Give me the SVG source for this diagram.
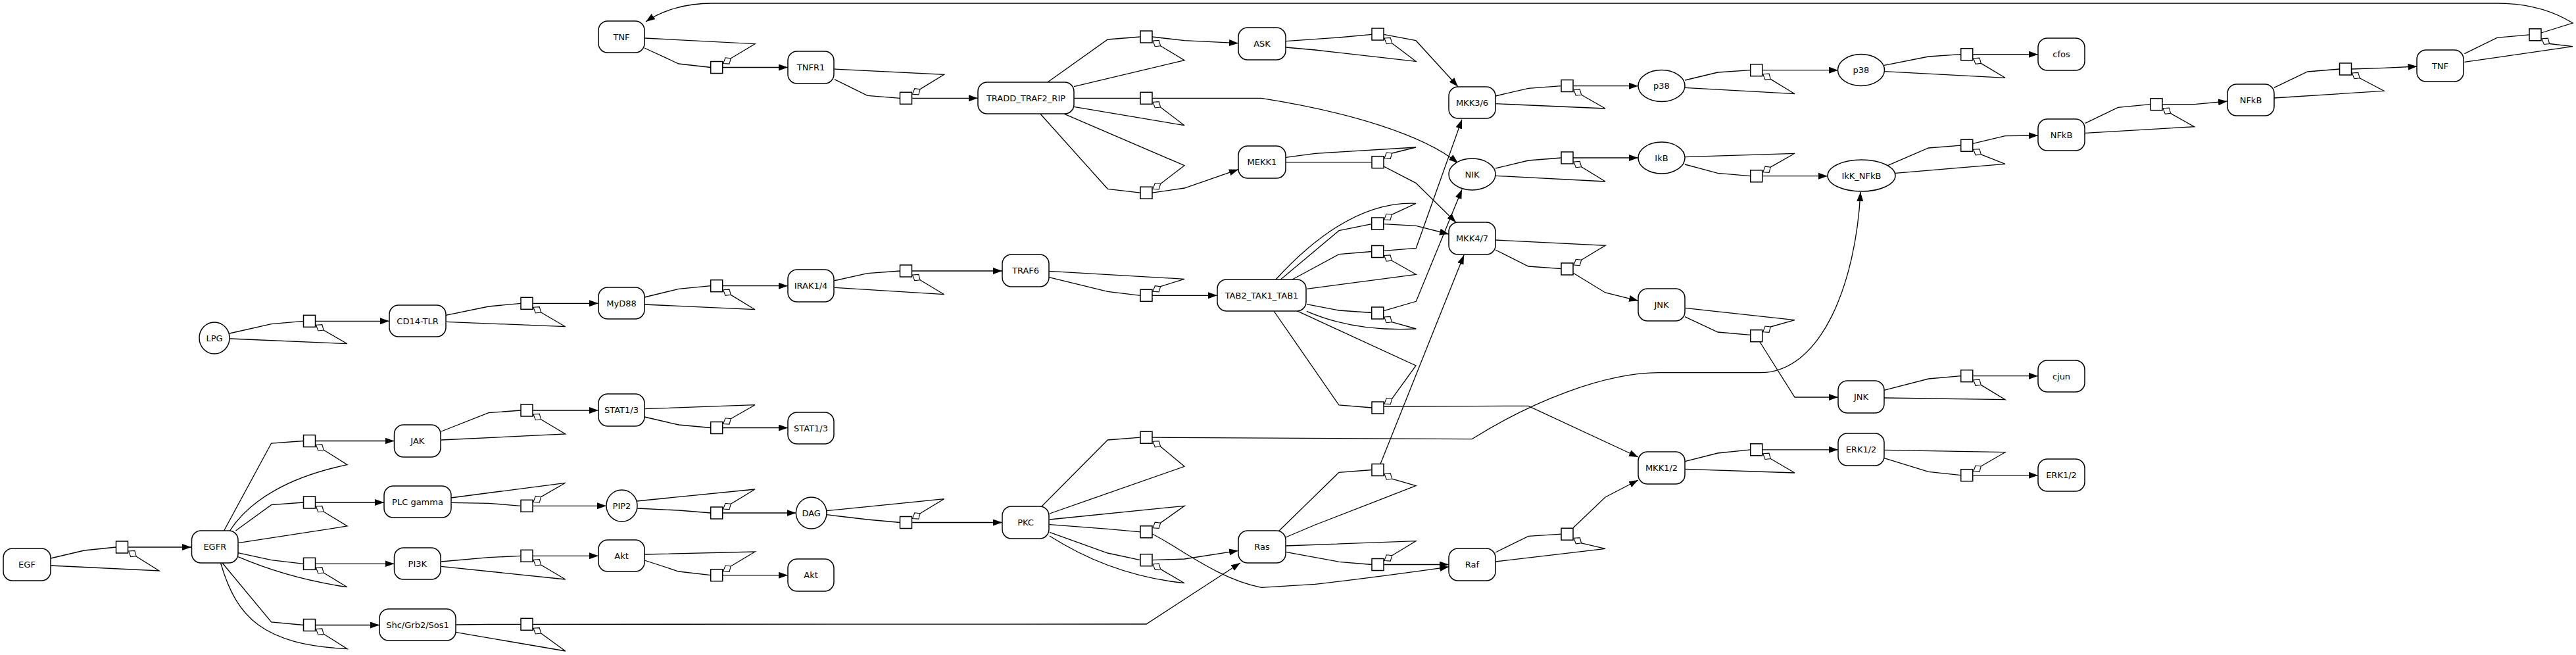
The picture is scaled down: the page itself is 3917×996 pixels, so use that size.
<svg xmlns="http://www.w3.org/2000/svg" width="3917" height="996" viewBox="0 0 3917 996">
<style>
.n{fill:#fff;stroke:#000;stroke-width:1.5}
.t{font-family:"DejaVu Sans","Liberation Sans",sans-serif;font-size:13px;text-anchor:middle;fill:#000}
.c{fill:none;stroke:#000;stroke-width:1.3}
.a{marker-end:url(#ah)}
.p{fill:#fff;stroke:#000;stroke-width:1.5}
.q{fill:#fff;stroke:#000;stroke-width:1.1}
</style>
<defs>
<marker id="ah" markerUnits="userSpaceOnUse" markerWidth="15" markerHeight="11" refX="14" refY="5" orient="auto" viewBox="0 0 15 11">
<path d="M0,0 L14,5 L0,10 Z" fill="#000"/>
</marker>
<rect id="sq" class="p" x="-9" y="-9" width="18" height="18"/>
<path id="pd" class="q" d="M10,6 L19.3,5.4 L21.6,13.7 L13.3,14.7 Z"/>
<path id="pu" class="q" d="M10,-6 L19.3,-5.4 L21.6,-13.7 L13.3,-14.7 Z"/>
</defs>
<rect width="3917" height="996" fill="#fff"/>
<g id="connectors">
<path class="c" d="M77,849 L128,837 L176.5,832"/><path class="c" d="M77,860 L242,868 L207,846"/><path class="c a" d="M194.5,832 L291,832"/>
<path class="c" d="M340.6,807 L412.6,674 L461.5,670.5"/><path class="c" d="M349.5,807 C380,760 440,725 528,706.7 L492,684"/><path class="c a" d="M479.5,670.5 L599.5,670.5"/>
<path class="c" d="M358.4,807 L412.6,767.7 L461.5,764"/><path class="c" d="M362,825.7 L528,800 L492,778"/><path class="c a" d="M479.5,764 L584,764"/>
<path class="c" d="M362,840.7 L412.6,851.7 L461.5,857.3"/><path class="c" d="M362,846.7 Q440,880 528,892.7 L492,871"/><path class="c a" d="M479.5,857.3 L599.5,857.3"/>
<path class="c" d="M338,856 L412.6,946 L461.5,950.5"/><path class="c" d="M335.5,856 C360,940 400,980 528,986.7 L492,964"/><path class="c a" d="M479.5,950.5 L577,950.5"/>
<path class="c" d="M671,656 L743,627.7 L792,624"/><path class="c" d="M671,669 L859.7,660 L822.6,637.7"/><path class="c a" d="M810,624 L910,624"/>
<path class="c" d="M685.6,764.3 L743,765.3 L792,769.3"/><path class="c" d="M685.6,757 L859.7,734.3 L822.6,755.6"/><path class="c a" d="M810,769.3 L922,769.3"/>
<path class="c" d="M671,854 L743,847.7 L792,845.3"/><path class="c" d="M671,861.3 L859.7,881 L822.6,859"/><path class="c a" d="M810,845.3 L910,845.3"/>
<path class="c" d="M692.6,950 L743,949.3 L792,949.3"/><path class="c" d="M692.6,961.3 L859.7,990 L822.6,963"/><path class="c a" d="M810,949.3 L1743,949 L1886,856"/>
<path class="c" d="M349,507 L412.6,492.7 L461.5,488.3"/><path class="c" d="M349.5,515 L528,522.7 L492,502"/><path class="c a" d="M479.5,488.3 L592,488.3"/>
<path class="c" d="M678,479.3 L743,466 L792,461.3"/><path class="c" d="M678,489.3 L859.7,496.7 L822.6,475"/><path class="c a" d="M810,461.3 L910,461.3"/>
<path class="c" d="M980,73 L1032,97 L1080.7,102.5"/><path class="c" d="M980,58 L1148,66.7 L1111.3,88.8"/><path class="c a" d="M1098.7,102.5 L1198,102.5"/>
<path class="c" d="M1269,120.7 L1319,145.3 L1368.5,149.3"/><path class="c" d="M1269,105 L1435.6,113.3 L1399.1,135.6"/><path class="c a" d="M1386.5,149.3 L1487,149.3"/>
<path class="c" d="M1593,125 L1684.3,60 L1734,56"/><path class="c" d="M1633,131.7 L1801,91.7 L1764.6,69.7"/><path class="c a" d="M1752,56 L1801,61.7 L1883,65.7"/>
<path class="c" d="M1633,149.3 L1734,149.3"/><path class="c" d="M1633,162.3 L1801,190.7 L1764.6,163"/><path class="c a" d="M1752,149.3 L1918,149.3 C2050,170 2165,205 2217,248"/>
<path class="c" d="M1582,173.3 L1684.3,287.3 L1734,293.2"/><path class="c" d="M1618.6,173.3 L1801,251.7 L1764.6,279.5"/><path class="c a" d="M1752,293.2 L1801,286 L1883,257.7"/>
<path class="c" d="M1269,426.7 L1319,415.7 L1368.5,412"/><path class="c" d="M1269,437.3 L1435.6,447.7 L1399.1,425.7"/><path class="c a" d="M1386.5,412 L1524,412"/>
<path class="c" d="M980,452 L1032,439.3 L1080.7,434.7"/><path class="c" d="M980,463 L1148,470.7 L1111.3,448.4"/><path class="c a" d="M1098.7,434.7 L1198,434.7"/>
<path class="c" d="M1595,421.7 L1684.3,443.3 L1734,449.3"/><path class="c" d="M1595,412.3 L1801,424.3 L1764.6,435.6"/><path class="c a" d="M1752,449.3 L1851,449.3"/>
<path class="c" d="M980,634 L1032,646 L1080.7,650.5"/><path class="c" d="M980,621.7 L1148,615.7 L1111.3,636.8"/><path class="c a" d="M1098.7,650.5 L1198,650.5"/>
<path class="c" d="M969,773 L1032,776 L1080.7,780"/><path class="c" d="M968,762 L1148,744 L1111.3,766.3"/><path class="c a" d="M1098.7,780 L1210.5,780"/>
<path class="c" d="M980,852 L1032,869 L1080.7,874.7"/><path class="c" d="M980,843 L1148,839 L1111.3,861"/><path class="c a" d="M1098.7,874.7 L1198,874.7"/>
<path class="c" d="M1257,782.7 L1319,790 L1368.5,794.5"/><path class="c" d="M1257,776.7 L1435.6,758.7 L1399.1,780.8"/><path class="c a" d="M1386.5,794.5 L1524,794.5"/>
<path class="c" d="M1584,770 L1684.3,669 L1734,665.2"/><path class="c" d="M1596,781 L1801,709.3 L1764.6,678.9"/><path class="c a" d="M1752,665.2 L2238,667.7 C2330,610 2440,566.7 2523,566.7 L2676,566.7 C2770,566.7 2822,430 2829,292"/>
<path class="c" d="M1596,797.7 L1684.3,804.3 L1734,808.8"/><path class="c" d="M1596,790 L1801,769.3 L1764.6,795.1"/><path class="c a" d="M1752,812 C1790,830 1850,880 1918,893.3 L2000,888.3 C2090,878 2160,868 2203,862"/>
<path class="c" d="M1596,809.3 L1684.3,841 L1734,851.7"/><path class="c" d="M1596,815 Q1690,875 1801,886.7 L1764.6,865.4"/><path class="c a" d="M1752,851.7 L1801,850 L1883,837.3"/>
<path class="c" d="M1937,473 L2036,616 L2086,620"/><path class="c" d="M1972,472.7 L2153,556 L2116.6,606.3"/><path class="c a" d="M2104,618.3 L2324,617.3 L2491,695"/>
<path class="c" d="M1944,808 L2036,718.3 L2086,714.5"/><path class="c" d="M1955,817 L2000,798 L2153,738.7 L2116.6,728.2"/><path class="c a" d="M2099,705.5 L2226,388"/>
<path class="c" d="M1955,839.3 L2036,854.3 L2086,858.5"/><path class="c" d="M1955,830 L2153,822.7 L2116.6,844.8"/><path class="c a" d="M2104,858.5 L2203,858.5"/>
<path class="c" d="M1955,62.7 L2036,57 L2086,52.3"/><path class="c" d="M1955,72 L2000,76 L2153,93.3 L2116.6,65.7"/><path class="c a" d="M2104,52.3 L2153,61.7 L2217,131.7"/>
<path class="c" d="M1955,246.7 L2086,246.7"/><path class="c" d="M1955,239.3 L2000,233.3 L2153,224 L2116.6,233"/><path class="c a" d="M2104,253 L2153,278.3 L2214,338.3"/>
<path class="c" d="M1947.3,425 L2036,350.7 L2085.7,340.7"/><path class="c" d="M1940,425 Q2050,305 2153,309.3 L2116.3,326.3"/><path class="c a" d="M2104,340.7 L2153.3,343.3 L2203,356"/>
<path class="c" d="M1965,425 L2036,386.7 L2085.7,382.5"/><path class="c" d="M1987,439.3 L2153.3,417.3 L2116.3,396.2"/><path class="c a" d="M2104,381.3 L2153.3,377.3 L2223,181.7"/>
<path class="c" d="M1987,462.7 L2036,472 L2085.7,475.5"/><path class="c" d="M1987,473.3 Q2060,505 2153.3,500 L2116.3,489.7"/><path class="c a" d="M2104,472.7 L2153.3,458.3 L2223,288.3"/>
<path class="c" d="M2274,146 L2324,134.3 L2374,130.7"/><path class="c" d="M2274,157.7 L2441,165 L2404.6,144.2"/><path class="c a" d="M2392,130.7 L2491,130.7"/>
<path class="c" d="M2274,256 L2324,244 L2374,240"/><path class="c" d="M2274,267.3 L2441,276 L2404.6,253.7"/><path class="c a" d="M2392,240 L2491,240"/>
<path class="c" d="M2274,380 L2324,405 L2374,408.7"/><path class="c" d="M2274,365 L2441,373.3 L2404.6,395.3"/><path class="c a" d="M2392,415 L2441,445 L2491,457.3"/>
<path class="c" d="M2562,122 L2612,110 L2661.7,106.7"/><path class="c" d="M2562,133.3 L2729,142.7 L2692.3,120.4"/><path class="c a" d="M2679.7,106.7 L2795,106.7"/>
<path class="c" d="M2562,250 L2612,263.3 L2661.7,267.7"/><path class="c" d="M2562,238.7 L2729,233.3 L2692.3,254.1"/><path class="c a" d="M2679.7,267.7 L2779,267.7"/>
<path class="c" d="M2562,481.7 L2612,505 L2661.7,509.3"/><path class="c" d="M2562,468.3 L2729,486.7 L2692.3,497"/><path class="c a" d="M2676,520 L2729,604 L2795,604"/>
<path class="c" d="M2865,99.3 L2932.4,86 L2981.7,82.7"/><path class="c" d="M2865,108.7 L3049,118.3 L3012.3,96.4"/><path class="c a" d="M2999.7,82.7 L3099,82.7"/>
<path class="c" d="M2870.5,251.7 L2932.4,225 L2981.7,221.2"/><path class="c" d="M2882,263.3 L3049,249.3 L3012.3,234.9"/><path class="c a" d="M2999.7,218.3 L3049,206.7 L3099,206"/>
<path class="c" d="M3170.8,187.3 L3220.6,163.3 L3270,158.7"/><path class="c" d="M3170.8,202.3 L3336.6,192.7 L3300.6,172.4"/><path class="c a" d="M3288,158.7 L3336.6,158.7 L3387,154"/>
<path class="c" d="M3457.8,133.3 L3508.8,109 L3557.5,105"/><path class="c" d="M3457.8,149 L3625,138.3 L3588.1,118.7"/><path class="c a" d="M3575.5,105 L3625,103.3 L3675.5,101"/>
<path class="c" d="M3747.4,81.7 L3797,57.3 L3846,52.8"/><path class="c" d="M3747.4,94.3 L3912,70.7 L3876.6,66.5"/><path class="c a" d="M3864,50 L3912,35 C3880,15 3840,5 3797,5 L1083,5 C1040,5 1005,17 982,33"/>
<path class="c" d="M2562,701.7 L2612,689 L2661.7,683.8"/><path class="c" d="M2562,713.3 L2729,719 L2692.3,697.5"/><path class="c a" d="M2679.7,683.8 L2795,683.8"/>
<path class="c" d="M2865,593.3 L2932.4,576 L2981.7,571.7"/><path class="c" d="M2865,605 L3049,607.7 L3012.3,585.4"/><path class="c a" d="M2999.7,571.7 L3099,571.7"/>
<path class="c" d="M2865,696.7 L2932.4,717.3 L2981.7,722.7"/><path class="c" d="M2865,684.3 L3049,687.7 L3012.3,709"/><path class="c a" d="M2999.7,722.7 L3099,722.7"/>
<path class="c" d="M2274,840 L2324,815.3 L2374,812.2"/><path class="c" d="M2274,854 L2441,834.3 L2404.6,825.9"/><path class="c a" d="M2392,802.7 L2441,756 L2491,730"/>
</g>
<g id="reactions">
<g id="r1"><use href="#sq" x="185.5" y="832"/><use href="#pd" x="185.5" y="832"/></g>
<g id="r2"><use href="#sq" x="470.5" y="670.5"/><use href="#pd" x="470.5" y="670.5"/></g>
<g id="r3"><use href="#sq" x="470.5" y="764"/><use href="#pd" x="470.5" y="764"/></g>
<g id="r4"><use href="#sq" x="470.5" y="857.3"/><use href="#pd" x="470.5" y="857.3"/></g>
<g id="r5"><use href="#sq" x="470.5" y="950.5"/><use href="#pd" x="470.5" y="950.5"/></g>
<g id="r6"><use href="#sq" x="801" y="624"/><use href="#pd" x="801" y="624"/></g>
<g id="r7"><use href="#sq" x="801" y="769.3"/><use href="#pu" x="801" y="769.3"/></g>
<g id="r8"><use href="#sq" x="801" y="845.3"/><use href="#pd" x="801" y="845.3"/></g>
<g id="r9"><use href="#sq" x="801" y="949.3"/><use href="#pd" x="801" y="949.3"/></g>
<g id="r10"><use href="#sq" x="470.5" y="488.3"/><use href="#pd" x="470.5" y="488.3"/></g>
<g id="r11"><use href="#sq" x="801" y="461.3"/><use href="#pd" x="801" y="461.3"/></g>
<g id="r12"><use href="#sq" x="1089.7" y="102.5"/><use href="#pu" x="1089.7" y="102.5"/></g>
<g id="r13"><use href="#sq" x="1377.5" y="149.3"/><use href="#pu" x="1377.5" y="149.3"/></g>
<g id="r14"><use href="#sq" x="1743" y="56"/><use href="#pd" x="1743" y="56"/></g>
<g id="r15"><use href="#sq" x="1743" y="149.3"/><use href="#pd" x="1743" y="149.3"/></g>
<g id="r16"><use href="#sq" x="1743" y="293.2"/><use href="#pu" x="1743" y="293.2"/></g>
<g id="r17"><use href="#sq" x="1377.5" y="412"/><use href="#pd" x="1377.5" y="412"/></g>
<g id="r18"><use href="#sq" x="1089.7" y="434.7"/><use href="#pd" x="1089.7" y="434.7"/></g>
<g id="r19"><use href="#sq" x="1743" y="449.3"/><use href="#pu" x="1743" y="449.3"/></g>
<g id="r20"><use href="#sq" x="1089.7" y="650.5"/><use href="#pu" x="1089.7" y="650.5"/></g>
<g id="r21"><use href="#sq" x="1089.7" y="780"/><use href="#pu" x="1089.7" y="780"/></g>
<g id="r22"><use href="#sq" x="1089.7" y="874.7"/><use href="#pu" x="1089.7" y="874.7"/></g>
<g id="r23"><use href="#sq" x="1377.5" y="794.5"/><use href="#pu" x="1377.5" y="794.5"/></g>
<g id="r24"><use href="#sq" x="1743" y="665.2"/><use href="#pd" x="1743" y="665.2"/></g>
<g id="r25"><use href="#sq" x="1743" y="808.8"/><use href="#pu" x="1743" y="808.8"/></g>
<g id="r26"><use href="#sq" x="1743" y="851.7"/><use href="#pd" x="1743" y="851.7"/></g>
<g id="r27"><use href="#sq" x="2095" y="620"/><use href="#pu" x="2095" y="620"/></g>
<g id="r28"><use href="#sq" x="2095" y="714.5"/><use href="#pd" x="2095" y="714.5"/></g>
<g id="r29"><use href="#sq" x="2095" y="858.5"/><use href="#pu" x="2095" y="858.5"/></g>
<g id="r30"><use href="#sq" x="2095" y="52"/><use href="#pd" x="2095" y="52"/></g>
<g id="r31"><use href="#sq" x="2095" y="246.7"/><use href="#pu" x="2095" y="246.7"/></g>
<g id="r32"><use href="#sq" x="2094.7" y="340"/><use href="#pu" x="2094.7" y="340"/></g>
<g id="r33"><use href="#sq" x="2094.7" y="382.5"/><use href="#pd" x="2094.7" y="382.5"/></g>
<g id="r34"><use href="#sq" x="2094.7" y="476"/><use href="#pd" x="2094.7" y="476"/></g>
<g id="r35"><use href="#sq" x="2383" y="130.5"/><use href="#pd" x="2383" y="130.5"/></g>
<g id="r36"><use href="#sq" x="2383" y="240"/><use href="#pd" x="2383" y="240"/></g>
<g id="r37"><use href="#sq" x="2383" y="409"/><use href="#pu" x="2383" y="409"/></g>
<g id="r38"><use href="#sq" x="2670.7" y="106.7"/><use href="#pd" x="2670.7" y="106.7"/></g>
<g id="r39"><use href="#sq" x="2670.7" y="267.8"/><use href="#pu" x="2670.7" y="267.8"/></g>
<g id="r40"><use href="#sq" x="2670.7" y="510.7"/><use href="#pu" x="2670.7" y="510.7"/></g>
<g id="r41"><use href="#sq" x="2990.7" y="82.7"/><use href="#pd" x="2990.7" y="82.7"/></g>
<g id="r42"><use href="#sq" x="2990.7" y="221.2"/><use href="#pd" x="2990.7" y="221.2"/></g>
<g id="r43"><use href="#sq" x="3279" y="158.7"/><use href="#pd" x="3279" y="158.7"/></g>
<g id="r44"><use href="#sq" x="3566.5" y="105"/><use href="#pd" x="3566.5" y="105"/></g>
<g id="r45"><use href="#sq" x="3855" y="52.8"/><use href="#pd" x="3855" y="52.8"/></g>
<g id="r46"><use href="#sq" x="2670.7" y="683.8"/><use href="#pd" x="2670.7" y="683.8"/></g>
<g id="r47"><use href="#sq" x="2990.7" y="571.7"/><use href="#pd" x="2990.7" y="571.7"/></g>
<g id="r48"><use href="#sq" x="2990.7" y="722.7"/><use href="#pu" x="2990.7" y="722.7"/></g>
<g id="r49"><use href="#sq" x="2383" y="812.2"/><use href="#pd" x="2383" y="812.2"/></g>
</g>
<g id="nodes">
<g id="TNF_a"><rect class="n" x="910" y="32" width="70" height="48" rx="14"/><text class="t" x="945" y="60.5">TNF</text></g>
<g id="TNFR1"><rect class="n" x="1198" y="78" width="70" height="49" rx="14"/><text class="t" x="1233" y="107">TNFR1</text></g>
<g id="TRADD_TRAF2_RIP"><rect class="n" x="1487" y="125" width="146" height="48" rx="14"/><text class="t" x="1560" y="153.5">TRADD_TRAF2_RIP</text></g>
<g id="ASK"><rect class="n" x="1883" y="42" width="72" height="49" rx="14"/><text class="t" x="1919" y="70.5">ASK</text></g>
<g id="MEKK1"><rect class="n" x="1883" y="222" width="72" height="49" rx="14"/><text class="t" x="1919" y="250.5">MEKK1</text></g>
<g id="MKK3_6"><rect class="n" x="2203" y="132" width="71" height="48" rx="14"/><text class="t" x="2238.5" y="160.5">MKK3/6</text></g>
<g id="NIK"><ellipse class="n" cx="2238.5" cy="265" rx="35.5" ry="24"/><text class="t" x="2238.5" y="269.5">NIK</text></g>
<g id="MKK4_7"><rect class="n" x="2203" y="338" width="71" height="49" rx="14"/><text class="t" x="2238.5" y="367">MKK4/7</text></g>
<g id="p38_a"><ellipse class="n" cx="2526.5" cy="130.5" rx="35.5" ry="24"/><text class="t" x="2526.5" y="135">p38</text></g>
<g id="IkB"><ellipse class="n" cx="2526.5" cy="240" rx="35.5" ry="24"/><text class="t" x="2526.5" y="244.5">IkB</text></g>
<g id="JNK_a"><rect class="n" x="2491" y="439" width="71" height="49" rx="14"/><text class="t" x="2526.5" y="468">JNK</text></g>
<g id="p38_b"><ellipse class="n" cx="2830" cy="106.5" rx="35.5" ry="24"/><text class="t" x="2830" y="111">p38</text></g>
<g id="IkK_NFkB"><ellipse class="n" cx="2830.5" cy="267" rx="51.5" ry="24"/><text class="t" x="2830.5" y="271.5">IkK_NFkB</text></g>
<g id="cfos"><rect class="n" x="3099" y="58" width="71" height="49" rx="14"/><text class="t" x="3134.5" y="87">cfos</text></g>
<g id="NFkB_a"><rect class="n" x="3099" y="181" width="71" height="48" rx="14"/><text class="t" x="3134.5" y="209.5">NFkB</text></g>
<g id="NFkB_b"><rect class="n" x="3387" y="128" width="71" height="48" rx="14"/><text class="t" x="3422.5" y="156.5">NFkB</text></g>
<g id="TNF_b"><rect class="n" x="3675" y="76" width="71" height="48" rx="14"/><text class="t" x="3710.5" y="104.5">TNF</text></g>
<g id="MyD88"><rect class="n" x="910" y="437" width="70" height="48" rx="14"/><text class="t" x="945" y="465.5">MyD88</text></g>
<g id="CD14-TLR"><rect class="n" x="592" y="464" width="86" height="48" rx="14"/><text class="t" x="635" y="492.5">CD14-TLR</text></g>
<g id="LPG"><ellipse class="n" cx="326" cy="514" rx="23" ry="24"/><text class="t" x="326" y="518.5">LPG</text></g>
<g id="IRAK1_4"><rect class="n" x="1198" y="410" width="70" height="49" rx="14"/><text class="t" x="1233" y="439">IRAK1/4</text></g>
<g id="TRAF6"><rect class="n" x="1524" y="387" width="71" height="49" rx="14"/><text class="t" x="1559.5" y="416">TRAF6</text></g>
<g id="TAB2_TAK1_TAB1"><rect class="n" x="1851" y="425" width="135" height="48" rx="14"/><text class="t" x="1918.5" y="453.5">TAB2_TAK1_TAB1</text></g>
<g id="JNK_b"><rect class="n" x="2795" y="579" width="70" height="49" rx="14"/><text class="t" x="2830" y="608">JNK</text></g>
<g id="ERK1_2_a"><rect class="n" x="2795" y="659" width="70" height="49" rx="14"/><text class="t" x="2830" y="688">ERK1/2</text></g>
<g id="cjun"><rect class="n" x="3099" y="548" width="71" height="48" rx="14"/><text class="t" x="3134.5" y="576.5">cjun</text></g>
<g id="ERK1_2_b"><rect class="n" x="3099" y="698" width="71" height="49" rx="14"/><text class="t" x="3134.5" y="727">ERK1/2</text></g>
<g id="EGF"><rect class="n" x="5" y="834" width="72" height="49" rx="14"/><text class="t" x="41" y="863">EGF</text></g>
<g id="EGFR"><rect class="n" x="291.5" y="807" width="70.5" height="49" rx="14"/><text class="t" x="326.8" y="836">EGFR</text></g>
<g id="JAK"><rect class="n" x="599.5" y="646" width="70.5" height="49" rx="14"/><text class="t" x="634.8" y="675">JAK</text></g>
<g id="PLC_gamma"><rect class="n" x="584" y="739" width="102" height="48" rx="14"/><text class="t" x="635" y="767.5">PLC gamma</text></g>
<g id="PI3K"><rect class="n" x="599.5" y="833" width="70.5" height="48" rx="14"/><text class="t" x="634.8" y="861.5">PI3K</text></g>
<g id="Shc_Grb2_Sos1"><rect class="n" x="577" y="926" width="116" height="48" rx="14"/><text class="t" x="635" y="954.5">Shc/Grb2/Sos1</text></g>
<g id="STAT1_3_a"><rect class="n" x="910" y="599" width="70" height="49" rx="14"/><text class="t" x="945" y="628">STAT1/3</text></g>
<g id="PIP2"><ellipse class="n" cx="945.5" cy="769" rx="23.5" ry="24"/><text class="t" x="945.5" y="773.5">PIP2</text></g>
<g id="Akt_a"><rect class="n" x="910" y="821" width="70" height="48" rx="14"/><text class="t" x="945" y="849.5">Akt</text></g>
<g id="STAT1_3_b"><rect class="n" x="1198" y="627" width="70" height="48" rx="14"/><text class="t" x="1233" y="655.5">STAT1/3</text></g>
<g id="DAG"><ellipse class="n" cx="1233.7" cy="780" rx="23.3" ry="24"/><text class="t" x="1233.7" y="784.5">DAG</text></g>
<g id="Akt_b"><rect class="n" x="1198" y="850" width="70" height="49" rx="14"/><text class="t" x="1233" y="879">Akt</text></g>
<g id="PKC"><rect class="n" x="1524" y="770" width="71" height="49" rx="14"/><text class="t" x="1559.5" y="799">PKC</text></g>
<g id="Ras"><rect class="n" x="1883" y="807" width="72" height="49" rx="14"/><text class="t" x="1919" y="836">Ras</text></g>
<g id="MKK1_2"><rect class="n" x="2491" y="687" width="71" height="49" rx="14"/><text class="t" x="2526.5" y="716">MKK1/2</text></g>
<g id="Raf"><rect class="n" x="2203" y="834" width="71" height="49" rx="14"/><text class="t" x="2238.5" y="863">Raf</text></g>
</g>
</svg>
